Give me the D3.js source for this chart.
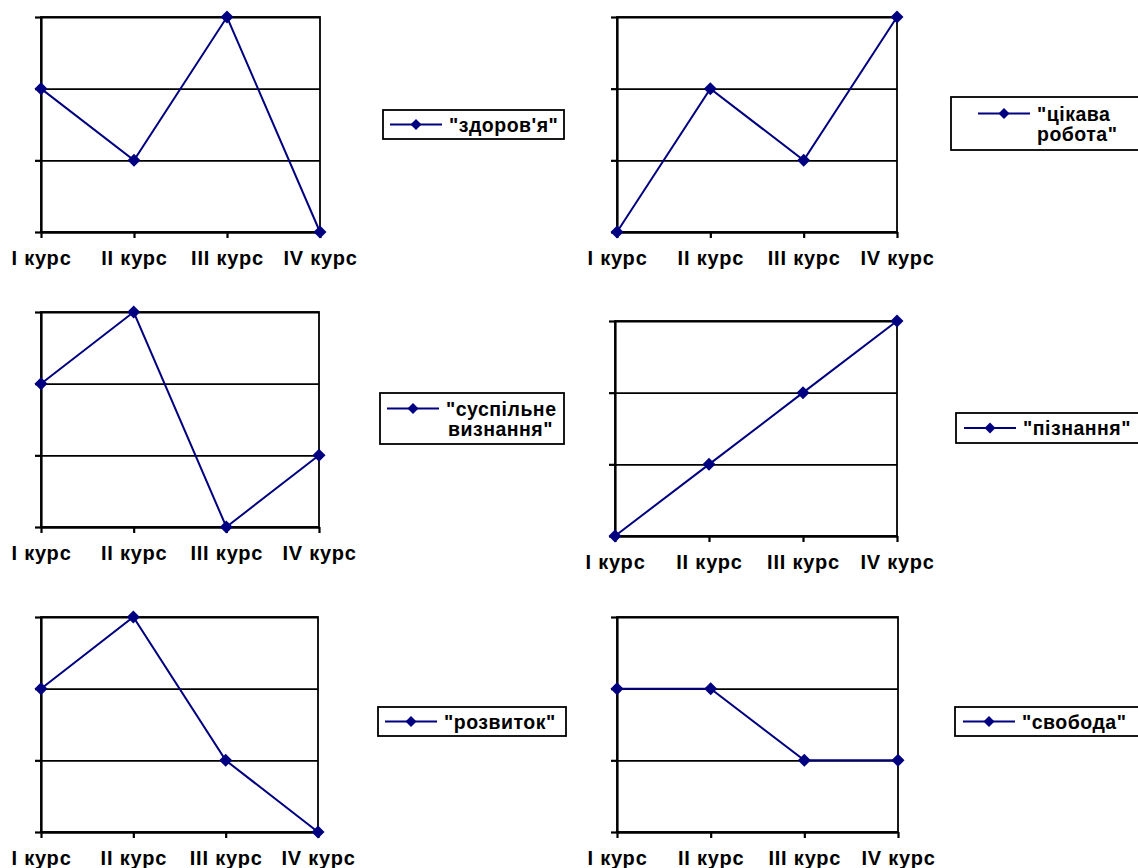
<!DOCTYPE html>
<html>
<head>
<meta charset="utf-8">
<script src="https://cdn.jsdelivr.net/npm/d3@7"></script>
<style>
  body { margin: 0; background: #fff; }
  svg text { font-family: 'Liberation Sans', Arial, sans-serif; font-weight: bold; font-size: 20px; fill: #000; }
  .tick text { letter-spacing: 0.8px; }
  .legend text { font-size: 19.5px; letter-spacing: 0.5px; }
</style>
</head>
<body>
<svg width="1138" height="868"></svg>
<script>

const courses = [ 'I курс', 'II курс', 'III курс', 'IV курс' ],
	levels = [ 0, 1, 2, 3 ],

	// назви цінностей (рядки легенди)
	zdorovyaName = [ '"здоров\'я"' ],
	tsikavaName = [ '"цікава', 'робота"' ],
	vyznannyaName = [ '"суспільне', 'визнання"' ],
	piznannyaName = [ '"пізнання"' ],
	rozvytokName = [ '"розвиток"' ],
	svobodaName = [ '"свобода"' ],

	// рівень по курсах
	zdorovya = [ 2, 1, 3, 0 ],
	tsikava = [ 0, 2, 1, 3 ],
	vyznannya = [ 2, 3, 0, 1 ],
	piznannya = [ 0, 1, 2, 3 ],
	rozvytok = [ 2, 3, 1, 0 ],
	svoboda = [ 2, 2, 1, 1 ]

const series = [
	{ name: zdorovyaName, values: zdorovya },
	{ name: tsikavaName, values: tsikava },
	{ name: vyznannyaName, values: vyznannya },
	{ name: piznannyaName, values: piznannya },
	{ name: rozvytokName, values: rozvytok },
	{ name: svobodaName, values: svoboda }
]

// розташування кожної діаграми на сторінці
const panels = [
	{ x0: 41, x1: 320, y0: 17, y1: 232, lx: 383, ly: 110, lw: 181, lh: 29, li: 7 },
	{ x0: 617, x1: 897, y0: 17, y1: 232, lx: 951, ly: 97, lw: 240, lh: 53, li: 27 },
	{ x0: 41, x1: 319, y0: 312, y1: 527, lx: 380, ly: 393, lw: 184, lh: 51, li: 7 },
	{ x0: 615, x1: 897, y0: 321, y1: 536, lx: 956, ly: 413, lw: 200, lh: 30, li: 8 },
	{ x0: 41, x1: 318, y0: 617, y1: 832, lx: 378, ly: 707, lw: 188, lh: 29, li: 7 },
	{ x0: 617, x1: 898, y0: 617, y1: 832, lx: 955, ly: 707, lw: 200, lh: 29, li: 8 }
]

const svg = d3.select( 'svg' ),
	navy = '#000080',
	diamond = r => `M0,${ -r }L${ r },0L0,${ r }L${ -r },0Z`

series.forEach( ( s, i ) => {

	const p = panels[ i ],
		x = d3.scalePoint().domain( courses ).range( [ p.x0, p.x1 ] ),
		y = d3.scaleLinear().domain( [ 0, 3 ] ).range( [ p.y1, p.y0 ] ),
		g = svg.append( 'g' )

	// горизонтальні лінії сітки
	g.append( 'g' )
		.attr( 'transform', `translate(${ p.x0 },0)` )
		.call( d3.axisLeft( y ).tickValues( levels ).tickSize( -( p.x1 - p.x0 ) ).tickFormat( '' ) )
		.call( a => a.select( '.domain' ).remove() )
		.selectAll( 'line' ).attr( 'stroke', '#000' ).attr( 'stroke-width', 1.8 )

	// рамка області побудови
	g.append( 'rect' )
		.attr( 'x', p.x0 ).attr( 'y', p.y0 )
		.attr( 'width', p.x1 - p.x0 ).attr( 'height', p.y1 - p.y0 )
		.attr( 'fill', 'none' ).attr( 'stroke', '#000' ).attr( 'stroke-width', 1.8 )

	// вісь Y: лише штрихи
	g.append( 'g' )
		.attr( 'transform', `translate(${ p.x0 },0)` )
		.call( d3.axisLeft( y ).tickValues( levels ).tickSize( 6 ).tickSizeOuter( 0 ).tickFormat( '' ) )
		.call( a => a.selectAll( 'line, path' ).attr( 'stroke', '#000' ).attr( 'stroke-width', 2.2 ) )

	// вісь X
	g.append( 'g' )
		.attr( 'transform', `translate(0,${ p.y1 })` )
		.call( d3.axisBottom( x ).tickSize( 6 ).tickSizeOuter( 0 ).tickPadding( 13 ) )
		.call( a => a.selectAll( 'line, path' ).attr( 'stroke', '#000' ).attr( 'stroke-width', 2.2 ) )
	g.selectAll( '.tick text' ).attr( 'fill', '#000' )
	g.selectAll( 'g[font-size]' ).attr( 'font-size', null ).attr( 'font-family', null )

	// лінія та маркери
	g.append( 'path' )
		.datum( s.values )
		.attr( 'fill', 'none' )
		.attr( 'stroke', navy )
		.attr( 'stroke-width', 2 )
		.attr( 'd', d3.line().x( ( d, j ) => x( courses[ j ] ) ).y( d => y( d ) ) )

	g.selectAll( '.pt' )
		.data( s.values )
		.enter()
		.append( 'path' )
		.attr( 'transform', ( d, j ) => `translate(${ x( courses[ j ] ) },${ y( d ) })` )
		.attr( 'd', diamond( 6.5 ) )
		.attr( 'fill', navy )

	// легенда
	const lg = g.append( 'g' ).attr( 'class', 'legend' ).attr( 'transform', `translate(${ p.lx },${ p.ly })` ),
		n = s.name.length,
		cy = p.lh / 2,
		my = n > 1 ? cy - 10 : cy

	lg.append( 'rect' )
		.attr( 'width', p.lw ).attr( 'height', p.lh )
		.attr( 'fill', '#fff' ).attr( 'stroke', '#000' ).attr( 'stroke-width', 1.8 )

	lg.append( 'line' )
		.attr( 'x1', p.li ).attr( 'x2', p.li + 52 )
		.attr( 'y1', my ).attr( 'y2', my )
		.attr( 'stroke', navy ).attr( 'stroke-width', 2 )

	lg.append( 'path' )
		.attr( 'transform', `translate(${ p.li + 26 },${ my })` )
		.attr( 'd', diamond( 5.5 ) )
		.attr( 'fill', navy )

	const txt = lg.append( 'text' )
		.attr( 'dominant-baseline', 'central' )

	s.name.forEach( ( line, k ) => {

		txt.append( 'tspan' )
			.attr( 'x', p.li + 59 + ( k > 0 && i === 2 ? 2 : 0 ) )
			.attr( 'y', cy + ( k - ( n - 1 ) / 2 ) * 20 )
			.text( line )

	})

})

</script>
</body>
</html>
